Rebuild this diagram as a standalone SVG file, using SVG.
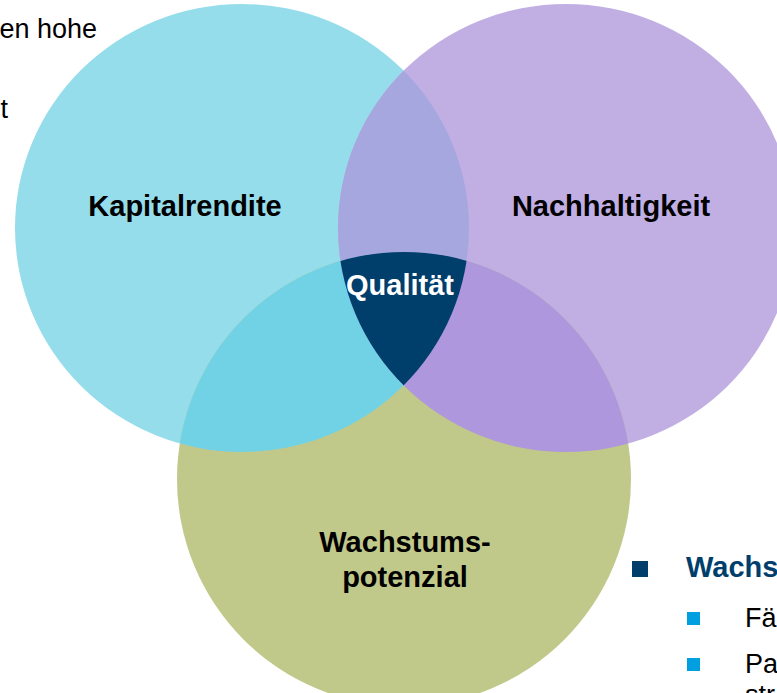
<svg xmlns="http://www.w3.org/2000/svg" width="777" height="693" viewBox="0 0 777 693">
<style>
.lbl{font-family:"Liberation Sans",Arial,sans-serif;font-weight:bold;font-size:29px;text-anchor:middle;fill:#000}
.body{font-family:"Liberation Sans",Arial,sans-serif;font-size:27px;fill:#000}
</style>
<defs>
<clipPath id="cL"><ellipse cx="242" cy="228" rx="227" ry="224"/></clipPath>
<clipPath id="cR"><ellipse cx="566" cy="228" rx="228" ry="224"/></clipPath>
<clipPath id="cB"><circle cx="404" cy="479" r="227"/></clipPath>
</defs>
<rect width="777" height="693" fill="#fff"/>
<g id="text-left">
<text class="body" x="97" y="38" text-anchor="end">en hohe</text>
<text class="body" x="8" y="118" text-anchor="end">t</text>
</g>
<g id="circles">
<ellipse id="kapital" cx="242" cy="228" rx="227" ry="224" fill="#95DDEB"/>
<ellipse id="nachhaltig" cx="566" cy="228" rx="228" ry="224" fill="#C1AFE4"/>
<circle id="wachstum" cx="404" cy="479" r="227" fill="#C1C98A"/>
<g clip-path="url(#cL)"><ellipse cx="566" cy="228" rx="228" ry="224" fill="#A7A7DF"/></g>
<g clip-path="url(#cL)"><circle cx="404" cy="479" r="227" fill="#72D2E5"/></g>
<g clip-path="url(#cR)"><circle cx="404" cy="479" r="227" fill="#AE97DC"/></g>
<g clip-path="url(#cL)"><g clip-path="url(#cR)"><circle cx="404" cy="479" r="227" fill="#003E6C"/></g></g>
</g>
<g id="labels">
<text class="lbl" x="185" y="216">Kapitalrendite</text>
<text class="lbl" x="611" y="216">Nachhaltigkeit</text>
<text class="lbl" x="400" y="295" style="fill:#fff">Qualität</text>
<text class="lbl" x="405" y="552">Wachstums-</text>
<text class="lbl" x="405" y="587">potenzial</text>
</g>
<g id="bullets">
<rect x="632" y="561" width="16" height="16" fill="#003E6C"/>
<text x="686" y="577" style="font-family:'Liberation Sans',Arial,sans-serif;font-weight:bold;font-size:29px;fill:#003E6C">Wachs</text>
<rect x="687" y="612" width="13" height="13" fill="#00A0E0"/>
<text class="body" x="745" y="627">Fä</text>
<rect x="687" y="658" width="13" height="13" fill="#00A0E0"/>
<text class="body" x="745" y="673">Pa</text>
<text class="body" x="745" y="704">str</text>
</g>
</svg>
